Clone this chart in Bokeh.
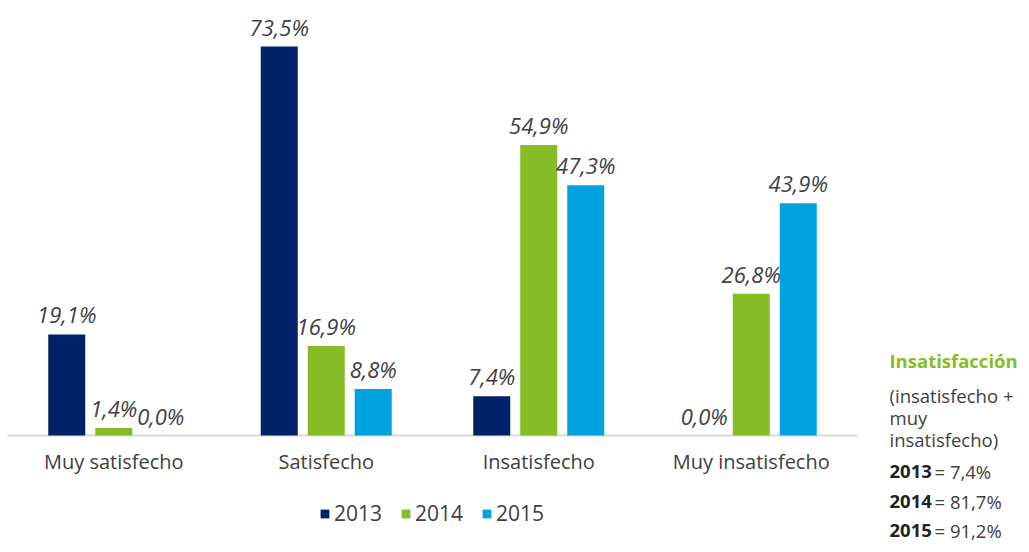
from bokeh.plotting import figure
from bokeh.models import ColumnDataSource, Range1d, Legend, LegendItem, Label
from bokeh.core.properties import value
from bokeh.embed import file_html
from bokeh.resources import INLINE

# ---- data ----
categories = ["Muy satisfecho", "Satisfecho", "Insatisfecho", "Muy insatisfecho"]
years = ["2013", "2014", "2015"]
v2013 = [19.1, 73.5, 7.4, 0.0]
v2014 = [1.4, 16.9, 54.9, 26.8]
v2015 = [0.0, 8.8, 47.3, 43.9]
colors = ["#012169", "#86BC25", "#00A3E0"]

summary_title = "Insatisfacción"
summary_note = ["(insatisfecho +", "muy", "insatisfecho)"]
summary_years = ["2013", "2014", "2015"]
summary_values = ["7,4%", "81,7%", "91,2%"]

FONT = "Open Sans"
TXT = "#404040"

W, H = 1021, 544
group_px = 212.5
x0_px = 7
base_px = 435
pxu = 5.292                     # pixels per percentage point
xs0 = -x0_px / group_px
p = figure(width=W, height=H,
           x_range=Range1d(xs0, xs0 + W / group_px),
           y_range=Range1d(-(H - base_px) / pxu, base_px / pxu),
           output_backend="svg", toolbar_location=None,
           min_border_left=0, min_border_right=0, min_border_top=0, min_border_bottom=0)
p.outline_line_color = None
p.grid.visible = False
p.axis.visible = False
p.background_fill_color = "white"

# baseline
p.segment(x0=[0], y0=[0], x1=[len(categories)], y1=[0], line_color="#d9d9d9", line_width=2)

bar_w = 37 / group_px
offs = [-47 / group_px, 0, 47 / group_px]
series = [v2013, v2014, v2015]
items = []
for yr, vals, col, off in zip(years, series, colors, offs):
    xs = [i + 0.5 + off for i in range(len(categories))]
    src = ColumnDataSource(dict(x=xs, top=vals,
                                lbl=[f"{v:.1f}%".replace(".", ",") for v in vals]))
    r = p.vbar(x="x", top="top", width=bar_w, bottom=0, source=src,
               fill_color=col, line_color=None)
    p.text(x="x", y="top", text="lbl", source=src, text_align="center",
           text_baseline="alphabetic", y_offset=-20,
           text_font=value(FONT), text_font_style="italic",
           text_font_size="22px", text_color=TXT)
    items.append(LegendItem(label=yr, renderers=[r]))

# category labels
csrc = ColumnDataSource(dict(x=[i + 0.5 for i in range(len(categories))],
                             y=[0] * len(categories), t=categories))
p.text(x="x", y="y", text="t", source=csrc, text_align="center", text_baseline="middle",
       y_offset=26, text_font=value(FONT), text_font_size="20px", text_color=TXT)

legend = Legend(items=items, orientation="horizontal", location=(319, 17),
                label_text_font=FONT, label_text_font_size="21px",
                label_text_color=TXT, glyph_width=11, glyph_height=11,
                label_standoff=4, spacing=18, border_line_color=None,
                background_fill_alpha=0, padding=0, margin=0)
p.add_layout(legend)

# right summary panel
def ydat(py):
    return (base_px - py) / pxu

x_panel = (889 - x0_px) / group_px
p.add_layout(Label(x=x_panel, y=ydat(360), text=summary_title, text_font=FONT,
                   text_font_style="bold", text_font_size="18.5px",
                   text_color="#86BC25", text_baseline="middle"))
for t, py in zip(summary_note, [395, 417, 439]):
    p.add_layout(Label(x=x_panel, y=ydat(py), text=t, text_font=FONT,
                       text_font_size="18.5px", text_color=TXT, text_baseline="middle"))
for yr, v, py in zip(summary_years, summary_values, [471, 501, 530]):
    p.add_layout(Label(x=x_panel, y=ydat(py), text=yr, text_font=FONT,
                       text_font_style="bold", text_font_size="18.5px",
                       text_color="#222222", text_baseline="middle"))
    p.add_layout(Label(x=x_panel, y=ydat(py), x_offset=45, text="= " + v,
                       text_font=FONT, text_font_size="18.5px", text_color=TXT,
                       text_baseline="middle"))

open("out.html", "w").write(file_html(p, INLINE))
